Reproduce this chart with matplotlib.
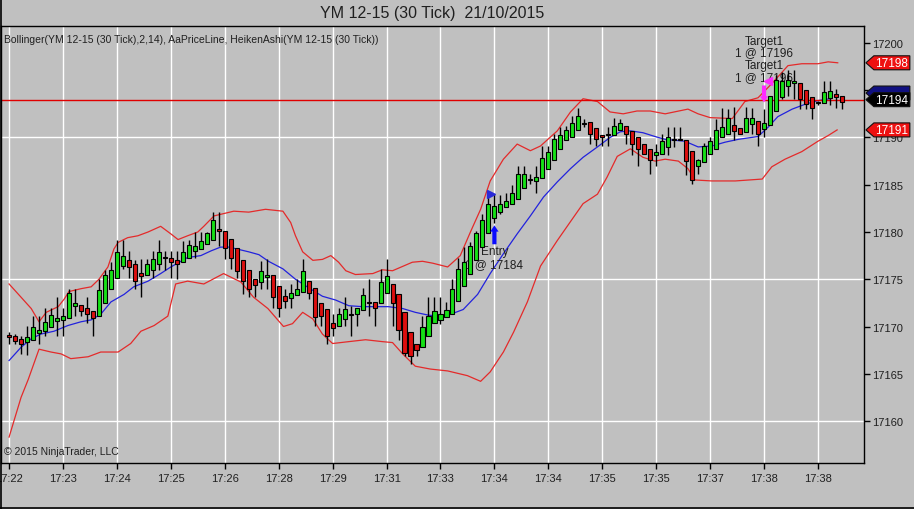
import matplotlib
matplotlib.use('Agg')
import matplotlib.pyplot as plt
from matplotlib.patches import Polygon
from matplotlib.lines import Line2D

plt.rcParams['font.family'] = ['Liberation Sans', 'DejaVu Sans']

# Heiken Ashi bars (30 tick)
opens = [17169.1, 17169.0, 17168.7, 17168.4, 17168.6, 17169.3, 17169.5, 17170.0, 17170.6, 17170.7,
         17170.9, 17172.2, 17172.3, 17172.0, 17171.6, 17171.1, 17172.5, 17174.0, 17175.1, 17176.4,
         17177.0, 17176.6, 17175.7, 17175.5, 17176.0, 17176.6, 17177.3, 17177.2, 17177.0, 17176.8,
         17177.3, 17177.95, 17178.2, 17178.7, 17179.2, 17180.3, 17180.1, 17179.25, 17178.3, 17177.0,
         17176.0, 17175.0, 17174.7, 17175.2, 17175.4, 17174.25, 17173.2, 17173.0, 17173.3, 17173.6,
         17174.8, 17174.1, 17172.45, 17171.85, 17170.4, 17170.1, 17170.8, 17171.3, 17171.3, 17171.75,
         17172.55, 17172.55, 17172.45, 17173.5, 17174.5, 17173.4, 17171.5, 17169.4, 17168.1, 17167.8,
         17168.95, 17170.33, 17170.7, 17171.0, 17171.3, 17172.7, 17174.3, 17175.55, 17177.0, 17178.4,
         17179.85, 17181.5, 17182.1, 17182.6, 17183.0, 17183.5, 17184.7, 17185.5, 17185.4, 17185.7,
         17186.7, 17187.6, 17188.8, 17189.7, 17190.1, 17190.8, 17191.5, 17191.6, 17191.0, 17190.3,
         17190.3, 17190.3, 17190.8, 17191.2, 17190.7, 17190.0, 17189.3, 17188.8, 17188.15, 17188.3,
         17189.0, 17189.8, 17189.8, 17189.7, 17188.6, 17187.0, 17187.4, 17188.25, 17188.8, 17190.1,
         17190.4, 17191.3, 17191.0, 17190.6, 17191.4, 17191.7, 17190.9, 17191.3, 17192.8, 17194.25,
         17195.4, 17195.8, 17195.8, 17195.0, 17194.25, 17193.7, 17193.65, 17194.15, 17194.6, 17194.4]
highs = [17169.4, 17169.2, 17169.0, 17170.1, 17171.1, 17171.1, 17172.0, 17172.0, 17173.1, 17172.0,
         17174.0, 17174.0, 17172.3, 17173.1, 17171.6, 17175.0, 17176.0, 17176.8, 17179.1, 17179.1,
         17178.0, 17177.0, 17177.1, 17177.1, 17178.0, 17179.1, 17178.0, 17178.0, 17178.0, 17179.0,
         17179.1, 17180.0, 17180.0, 17180.0, 17182.1, 17182.1, 17180.1, 17179.25, 17178.3, 17177.0,
         17176.0, 17175.0, 17176.9, 17177.1, 17175.4, 17174.25, 17174.0, 17174.5, 17175.0, 17177.1,
         17174.8, 17174.1, 17172.45, 17171.85, 17171.3, 17172.0, 17173.1, 17172.2, 17172.0, 17174.1,
         17175.0, 17172.55, 17176.1, 17177.1, 17174.5, 17173.4, 17171.5, 17169.4, 17168.1, 17171.1,
         17173.1, 17173.1, 17173.1, 17172.6, 17175.0, 17177.3, 17178.4, 17178.9, 17180.1, 17181.9,
         17184.0, 17184.0, 17183.9, 17184.1, 17185.0, 17187.0, 17187.0, 17186.1, 17187.0, 17189.1,
         17189.1, 17190.4, 17191.1, 17191.2, 17192.3, 17193.1, 17192.0, 17191.6, 17191.0, 17190.3,
         17191.1, 17192.1, 17191.95, 17191.2, 17190.7, 17190.0, 17189.3, 17188.8, 17189.3, 17190.4,
         17191.1, 17191.1, 17191.1, 17189.7, 17188.6, 17187.7, 17189.4, 17190.0, 17192.0, 17193.1,
         17193.0, 17193.2, 17191.0, 17193.2, 17193.1, 17191.7, 17193.0, 17194.4, 17196.6, 17196.9,
         17197.1, 17197.1, 17195.8, 17195.0, 17194.25, 17193.9, 17196.0, 17196.0, 17195.1, 17194.4]
lows = [17168.1, 17168.1, 17167.1, 17167.0, 17168.6, 17168.1, 17169.0, 17170.0, 17169.0, 17169.0,
        17170.9, 17171.1, 17171.1, 17170.4, 17169.0, 17171.1, 17172.5, 17174.0, 17175.1, 17176.1,
        17175.1, 17174.0, 17173.1, 17175.5, 17175.1, 17176.0, 17176.0, 17175.1, 17175.0, 17176.8,
        17177.3, 17177.3, 17178.2, 17178.7, 17179.2, 17178.5, 17177.1, 17176.1, 17175.1, 17173.4,
        17173.1, 17173.1, 17174.0, 17174.0, 17172.0, 17171.0, 17172.0, 17172.0, 17173.3, 17173.6,
        17172.9, 17170.1, 17170.1, 17168.1, 17169.0, 17170.1, 17170.1, 17169.0, 17170.1, 17171.75,
        17171.1, 17170.1, 17172.45, 17173.5, 17170.1, 17168.6, 17166.9, 17166.0, 17166.9, 17167.8,
        17168.95, 17170.33, 17170.3, 17171.0, 17171.3, 17172.7, 17174.3, 17175.55, 17177.0, 17178.4,
        17179.85, 17181.0, 17181.9, 17182.6, 17183.0, 17183.5, 17184.7, 17185.1, 17184.1, 17185.7,
        17186.7, 17187.6, 17188.8, 17189.7, 17190.1, 17190.8, 17191.1, 17189.3, 17189.1, 17189.1,
        17189.1, 17190.3, 17190.8, 17189.3, 17188.1, 17187.0, 17188.2, 17186.1, 17187.0, 17188.3,
        17188.1, 17189.0, 17189.7, 17186.0, 17185.1, 17186.1, 17187.4, 17188.25, 17188.8, 17190.1,
        17190.4, 17189.7, 17190.4, 17190.6, 17190.4, 17189.1, 17190.0, 17191.3, 17192.8, 17194.1,
        17194.4, 17194.1, 17193.0, 17193.0, 17192.0, 17193.4, 17193.65, 17193.4, 17193.1, 17193.0]
closes = [17168.9, 17168.5, 17168.1, 17168.85, 17170.0, 17169.6, 17170.5, 17171.25, 17170.9, 17171.1,
          17173.5, 17172.5, 17171.6, 17171.3, 17170.9, 17173.9, 17175.5, 17176.0, 17177.85, 17177.5,
          17176.3, 17174.8, 17175.3, 17176.6, 17177.1, 17177.85, 17177.25, 17176.8, 17176.6, 17177.85,
          17178.6, 17178.55, 17179.0, 17179.85, 17181.3, 17180.1, 17178.3, 17177.3, 17175.9, 17174.8,
          17174.0, 17174.4, 17175.9, 17175.5, 17173.1, 17172.0, 17172.7, 17173.5, 17174.0, 17175.9,
          17173.5, 17171.0, 17171.1, 17169.0, 17169.8, 17171.3, 17171.85, 17171.25, 17172.0, 17173.3,
          17172.45, 17172.0, 17174.75, 17175.3, 17172.45, 17169.6, 17167.2, 17166.85, 17167.55, 17170.0,
          17171.1, 17171.6, 17171.3, 17171.7, 17174.0, 17176.1, 17176.8, 17178.55, 17179.85, 17181.3,
          17183.0, 17182.8, 17183.0, 17183.3, 17184.1, 17186.1, 17186.1, 17185.45, 17185.8, 17187.8,
          17188.5, 17189.8, 17190.3, 17190.8, 17191.5, 17192.3, 17191.45, 17190.4, 17189.8, 17190.0,
          17190.25, 17191.25, 17191.5, 17190.4, 17189.3, 17188.8, 17188.3, 17187.6, 17188.5, 17189.6,
          17190.0, 17189.75, 17189.75, 17187.55, 17185.5, 17187.6, 17189.1, 17189.6, 17190.8, 17191.1,
          17192.1, 17190.7, 17190.4, 17192.1, 17192.1, 17190.4, 17191.5, 17194.4, 17196.1, 17196.0,
          17196.1, 17196.0, 17194.1, 17193.55, 17193.1, 17193.65, 17194.8, 17194.95, 17194.25, 17193.8]

# Bollinger(2,14) bands, sampled along the curves (x = bar index)
upper_x = [0, 2, 3.7, 5, 6.2, 8.2, 9.2, 10, 12, 13.7, 15, 16.5, 17.5, 18.2, 19.8, 21.5, 23.2, 25.3, 27,
           28.2, 29.8, 31.5, 32.5, 34.2, 37.5, 40, 42.8, 45.7, 47, 47.8, 49, 50.7, 52.3, 53.7, 55, 56.2,
           57.8, 60.7, 62.3, 64, 67.3, 69, 70.7, 73.2, 75.3, 77, 78.7, 80.3, 82.5, 84.8, 87, 88.7, 91.5,
           93.7, 95.8, 98.2, 100.3, 102.5, 104.8, 107, 109.5, 113.3, 115, 117, 120.7, 122.8, 125, 127.3,
           130, 132.3, 135, 136.7, 138.3]
upper_y = [17174.5, 17173.1, 17171.9, 17170.5, 17171.5, 17172.1, 17172.9, 17173.7, 17174.0, 17174.2,
           17175.0, 17176.3, 17178.2, 17178.9, 17179.4, 17179.6, 17180.0, 17180.6, 17179.8, 17179.2,
           17179.6, 17180.0, 17180.6, 17181.7, 17182.2, 17182.1, 17182.4, 17182.2, 17181.0, 17179.6,
           17177.9, 17177.0, 17177.1, 17177.5, 17176.8, 17175.9, 17175.5, 17175.6, 17176.0, 17175.9,
           17176.8, 17176.9, 17176.7, 17176.3, 17177.5, 17180.0, 17182.4, 17185.4, 17187.7, 17189.3,
           17188.6, 17189.1, 17190.7, 17192.7, 17194.1, 17193.8, 17192.7, 17192.5, 17192.8, 17192.8,
           17192.5, 17193.0, 17192.5, 17192.1, 17192.0, 17193.8, 17194.2, 17195.7, 17197.6, 17197.8,
           17197.8, 17198.0, 17197.9]
mid_x = [0, 2, 3.7, 5.3, 7.5, 9.8, 12, 13.7, 15.3, 17, 19.2, 20.8, 23.2, 25.3, 27, 29.8, 32, 33.7, 35.3,
         36.7, 40, 41.7, 43.3, 45.7, 47.8, 50, 52.3, 54.5, 56.7, 59, 61.2, 63.3, 65.7, 67.8, 70, 72, 73.7,
         75.8, 78.2, 80.3, 82.5, 84.8, 87, 89.2, 91.5, 93.7, 95.8, 98.2, 100.3, 102, 103.7, 105.8, 107.8,
         109.5, 112.8, 115, 117.3, 119.5, 121.7, 125, 126.7, 128.3, 130.7, 132.8, 135, 137]
mid_y = [17166.4, 17167.8, 17168.7, 17169.2, 17169.5, 17170.1, 17170.5, 17170.7, 17171.3, 17172.6,
         17173.4, 17174.2, 17174.8, 17175.6, 17176.3, 17177.3, 17177.5, 17178.0, 17178.4, 17178.4,
         17177.9, 17177.6, 17176.9, 17176.1, 17175.0, 17174.1, 17173.2, 17172.8, 17172.2, 17172.1,
         17172.1, 17172.1, 17171.9, 17171.5, 17171.2, 17171.1, 17171.3, 17171.8, 17173.4, 17175.6,
         17177.7, 17179.8, 17181.7, 17183.7, 17185.3, 17186.7, 17187.9, 17189.0, 17190.0, 17190.6,
         17190.7, 17190.5, 17190.1, 17189.8, 17189.6, 17189.0, 17189.1, 17189.5, 17189.8, 17190.1,
         17191.1, 17192.2, 17193.0, 17193.5, 17193.9, 17194.1]
lower_x = [0, 2, 3.2, 5, 7, 8.7, 10.3, 13.2, 15.3, 18.2, 20.3, 22, 24.2, 26.5, 27.8, 29.8, 32.5, 35.8,
           38.7, 40.8, 43.2, 45.8, 47.3, 49, 50.7, 52.3, 54, 56.7, 59.5, 62.3, 64, 65.7, 67.8, 70.3, 73.2,
           76.5, 78.7, 80.3, 82.5, 84.2, 86.5, 88.7, 91.5, 93.7, 95.8, 98.2, 99.8, 101.5, 103.7, 105.8,
           107.8, 109.5, 111.7, 113.3, 114.5, 117.3, 121.2, 125.7, 127.3, 129.5, 132.3, 135, 136.7, 138.2]
lower_y = [17158.3, 17162.5, 17164.4, 17167.6, 17167.3, 17167.1, 17166.6, 17166.8, 17167.3, 17167.3,
           17168.2, 17169.5, 17170.1, 17171.1, 17174.5, 17174.8, 17174.5, 17175.6, 17174.7, 17173.1,
           17171.9, 17170.0, 17170.3, 17171.5, 17170.8, 17169.2, 17168.2, 17168.4, 17168.6, 17168.4,
           17168.3, 17167.1, 17165.8, 17165.5, 17165.3, 17164.8, 17164.2, 17165.2, 17167.3, 17169.4,
           17172.6, 17176.4, 17179.1, 17181.1, 17183.0, 17184.0, 17185.8, 17188.0, 17188.8, 17187.9,
           17187.5, 17187.7, 17187.5, 17186.7, 17185.5, 17185.4, 17185.4, 17185.6, 17186.9, 17187.7,
           17188.5, 17189.6, 17190.2, 17190.8]

tick_bars = [0, 9, 18, 27, 36, 45, 54, 63, 72, 81, 90, 99, 108, 117, 126, 135]
tick_labels = ['17:22', '17:23', '17:24', '17:25', '17:26', '17:28', '17:29', '17:31', '17:33',
               '17:34', '17:34', '17:35', '17:35', '17:37', '17:38', '17:38']
price_line = 17194
entry_bar, entry_price = 81, 17184
target_bar, target_price = 126, 17196

GREEN = '#16e016'
RED = '#dd0f0f'
BG = '#c0c0c0'

fig = plt.figure(figsize=(9.14, 5.10), dpi=100, facecolor=BG)
ax = fig.add_axes([0.0012, 0.0902, 0.944, 0.857], facecolor=BG)

n = len(opens)
idx = list(range(n))
ax.set_xlim(-1.33, 142.67)
ax.set_ylim(17155.56, 17201.8)

# grid
for t in tick_bars:
    ax.axvline(t, color='white', lw=1, zorder=0.5)
for g in (17160, 17175, 17190):
    ax.axhline(g, color='white', lw=1, zorder=0.5)

# bands
ax.plot(upper_x, upper_y, color='#e42a2a', lw=0.9, zorder=1.5)
ax.plot(lower_x, lower_y, color='#e42a2a', lw=0.9, zorder=1.5)
ax.plot(mid_x, mid_y, color='#2222dd', lw=0.9, zorder=1.6)

# price line
ax.axhline(price_line, color='#e00000', lw=1, zorder=1.7)

# candles
cols = []
bottoms = []
heights = []
for o, c in zip(opens, closes):
    if c > o + 0.04:
        cols.append(GREEN)
    elif c < o - 0.04:
        cols.append(RED)
    else:
        cols.append('black')
    bottoms.append(min(o, c))
    heights.append(max(abs(c - o), 0.12))
ax.vlines(idx, lows, highs, color='black', lw=1, zorder=3)
ax.bar(idx, heights, bottom=bottoms, width=0.68, color=cols, edgecolor='black',
       linewidth=0.8, zorder=4)

# entry marks
ax.text(entry_bar, 17178.0, 'Entry', ha='center', va='center', fontsize=8.5, color='#202020', zorder=2)
ax.text(entry_bar, 17176.6, '1 @ %d' % entry_price, ha='center', va='center', fontsize=8.5,
        color='#202020', zorder=2)
ax.annotate('', xy=(entry_bar, 17180.7), xytext=(entry_bar, 17178.7),
            arrowprops=dict(arrowstyle='simple,head_length=0.45,head_width=0.6,tail_width=0.3',
                            color='#0a0aff', lw=0, shrinkA=0, shrinkB=0), zorder=5)
ax.plot([entry_bar - 0.5], [entry_price], marker='>', color='#2a2ad8', markersize=5.5, zorder=5)

# target marks
ax.text(target_bar, 17200.2, 'Target1', ha='center', va='center', fontsize=8.5, color='#202020', zorder=2)
ax.text(target_bar, 17199.0, '1 @ %d' % target_price, ha='center', va='center', fontsize=8.5,
        color='#202020', zorder=2)
ax.text(target_bar, 17197.7, 'Target1', ha='center', va='center', fontsize=8.5, color='#202020', zorder=2)
ax.text(target_bar, 17196.4, '1 @ %d' % target_price, ha='center', va='center', fontsize=8.5,
        color='#202020', zorder=2)
ax.annotate('', xy=(target_bar, 17193.7), xytext=(target_bar, 17195.5),
            arrowprops=dict(arrowstyle='simple,head_length=0.45,head_width=0.6,tail_width=0.3',
                            color='#ff2aff', lw=0, shrinkA=0, shrinkB=0), zorder=5)
ax.plot([target_bar + 0.6], [target_price], marker='<', color='#ff2aff', markersize=5.5, zorder=5)

# axes styling
ax.yaxis.tick_right()
ax.set_yticks(range(17160, 17201, 5))
ax.set_yticklabels([str(v) for v in range(17160, 17201, 5)])
ax.set_xticks(tick_bars)
ax.set_xticklabels(tick_labels)
ax.tick_params(axis='both', direction='out', length=4, width=1, color='black',
               labelsize=8, labelcolor='#202020', pad=3)
ax.tick_params(axis='y', pad=2)
for s in ax.spines.values():
    s.set_color('black')
    s.set_linewidth(1)

# right-axis value markers
px = 1.0 / 864
hh = 7 / 9.45
ytr = ax.get_yaxis_transform()


def value_marker(v, face, label):
    pts = [(1 + 2 * px, v), (1 + 10 * px, v + hh), (1 + 46 * px, v + hh),
           (1 + 46 * px, v - hh), (1 + 10 * px, v - hh)]
    ax.add_patch(Polygon(pts, closed=True, transform=ytr, facecolor=face, edgecolor='#111111',
                         lw=0.8, clip_on=False, zorder=10))
    if label:
        ax.text(1 + 28 * px, v, label, transform=ytr, ha='center', va='center', color='white',
                fontsize=8.5, clip_on=False, zorder=11)


value_marker(upper_y[-1], '#ee1111', '%d' % round(upper_y[-1]))
value_marker(mid_y[-1] + 0.6, '#101080', '')
value_marker(price_line, 'black', '%d' % price_line)
value_marker(lower_y[-1], '#ee1111', '%d' % round(lower_y[-1]))

# header / footer texts
fig.text(0.473, 0.973, 'YM 12-15 (30 Tick)  21/10/2015', ha='center', va='center',
         fontsize=11.5, color='#202020')
ax.text(0.003, 0.97, 'Bollinger(YM 12-15 (30 Tick),2,14), AaPriceLine, HeikenAshi(YM 12-15 (30 Tick))',
        transform=ax.transAxes, ha='left', va='center', fontsize=7.5, color='#202020', zorder=6)
ax.text(0.003, 0.016, '\u00a9 2015 NinjaTrader, LLC', transform=ax.transAxes, ha='left',
        va='bottom', fontsize=7.5, color='#202020', zorder=6)

# outer frame lines
fig.add_artist(Line2D([0.0008, 0.0008], [0, 1], transform=fig.transFigure, color='black', lw=1.2))
fig.add_artist(Line2D([0, 1], [0.002, 0.002], transform=fig.transFigure, color='black', lw=1.2))

fig.savefig('out.png', dpi=100, facecolor=BG)
